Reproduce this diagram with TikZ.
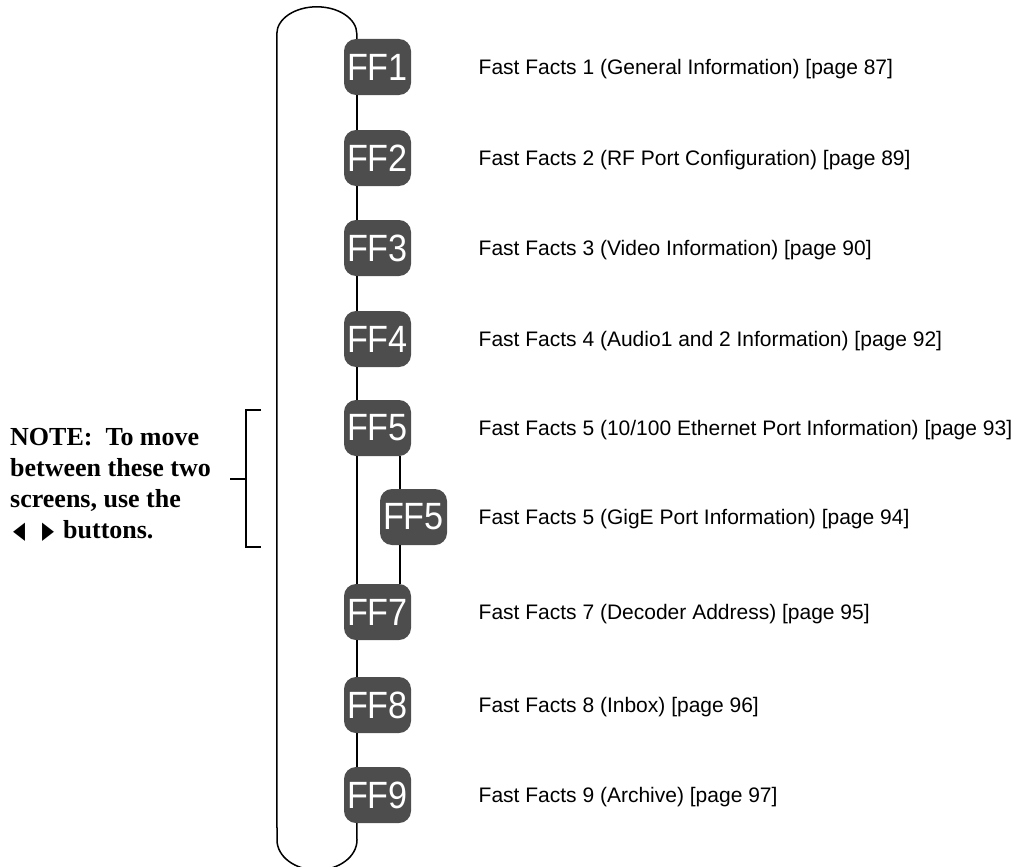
\documentclass[tikz,border=0pt]{standalone}
\usepackage{fontspec}
\setmainfont{Liberation Serif}
\newfontfamily\arialfont{Liberation Sans}
\newfontfamily\screenfont[FakeStretch=0.9]{Liberation Sans}
\newfontfamily\symfont{DejaVu Sans}
\definecolor{screengray}{RGB}{77,77,77}
\newcommand\arrowkey[1]{\scalebox{0.65}[1]{\symfont\fontsize{24}{24}\selectfont #1}}
\tikzset{
  screen/.style={fill=screengray, rounded corners=12pt, minimum width=67pt, minimum height=56pt, inner sep=0pt, text=white, font=\screenfont\fontsize{38}{38}\selectfont},
  facts/.style={anchor=base west, inner sep=0pt, font=\arialfont\fontsize{21}{25}\selectfont},
  wire/.style={line width=1.5pt}
}
\begin{document}
\begin{tikzpicture}[x=1pt,y=-1pt]
\useasboundingbox (0,0) rectangle (1023,867);
\node[screen] (ff1) at (377.5,67) {FF1};
\node[screen] (ff2) at (377.5,158) {FF2};
\node[screen] (ff3) at (377.5,248) {FF3};
\node[screen] (ff4) at (377.5,339) {FF4};
\node[screen] (ff5) at (377.5,428) {FF5};
\node[screen] (ff5g) at (413.5,517) {FF5};
\node[screen] (ff7) at (377.5,612) {FF7};
\node[screen] (ff8) at (377.5,705) {FF8};
\node[screen] (ff9) at (377.5,795) {FF9};
\node[facts] (t1) at (478.5,74.5) {Fast Facts 1 (General Information) [page 87]};
\node[facts] (t2) at (478.5,165.5) {Fast Facts 2 (RF Port Configuration) [page 89]};
\node[facts] (t3) at (478.5,255.5) {Fast Facts 3 (Video Information) [page 90]};
\node[facts] (t4) at (478.5,346.5) {Fast Facts 4 (Audio1 and 2 Information) [page 92]};
\node[facts] (t5) at (478.5,435.5) {Fast Facts 5 (10/100 Ethernet Port Information) [page 93]};
\node[facts] (t5g) at (478.5,524.5) {Fast Facts 5 (GigE Port Information) [page 94]};
\node[facts] (t7) at (478.5,619.5) {Fast Facts 7 (Decoder Address) [page 95]};
\node[facts] (t8) at (478.5,712.5) {Fast Facts 8 (Inbox) [page 96]};
\node[facts] (t9) at (478.5,802.5) {Fast Facts 9 (Archive) [page 97]};
\node[anchor=north west, align=left, inner sep=0pt, font=\bfseries\fontsize{26}{31}\selectfont] (note) at (10,428)
  {NOTE:\ \ To move\\between these two\\screens, use the\\\hspace*{3pt}\arrowkey{◀}\hspace{17pt}\arrowkey{▶}\hspace{9pt}buttons.};
% the loop through the screens
\draw[wire] ([xshift=13pt]ff1.north west) -- ++(0,-5) arc[start angle=0, end angle=180, x radius=40pt, y radius=27pt]
  -- (277,840) arc[start angle=180, end angle=360, x radius=40pt, y radius=30pt] -- ([xshift=13pt]ff9.south west);
\draw[wire] ([xshift=13pt]ff1.south west) -- ([xshift=13pt]ff2.north west);
\draw[wire] ([xshift=13pt]ff2.south west) -- ([xshift=13pt]ff3.north west);
\draw[wire] ([xshift=13pt]ff3.south west) -- ([xshift=13pt]ff4.north west);
\draw[wire] ([xshift=13pt]ff4.south west) -- ([xshift=13pt]ff5.north west);
\draw[wire] ([xshift=13pt]ff5.south west) -- ([xshift=13pt]ff7.north west);
\draw[wire] ([xshift=13pt]ff7.south west) -- ([xshift=13pt]ff8.north west);
\draw[wire] ([xshift=13pt]ff8.south west) -- ([xshift=13pt]ff9.north west);
% side branch for the second FF5 screen
\draw[wire] ([xshift=-11pt]ff5.south east) -- ([xshift=-11pt]ff5.south east |- ff5g.north);
\draw[wire] ([xshift=-11pt]ff5.south east |- ff5g.south) -- ([xshift=-11pt]ff5.south east |- ff7.north);
% bracket
\coordinate (tick) at (230,479);
\draw[wire] (261,410) -- (246,410) -- (246,547) -- (261,547);
\draw[wire] (tick) -- (246,479);
\end{tikzpicture}
\end{document}
